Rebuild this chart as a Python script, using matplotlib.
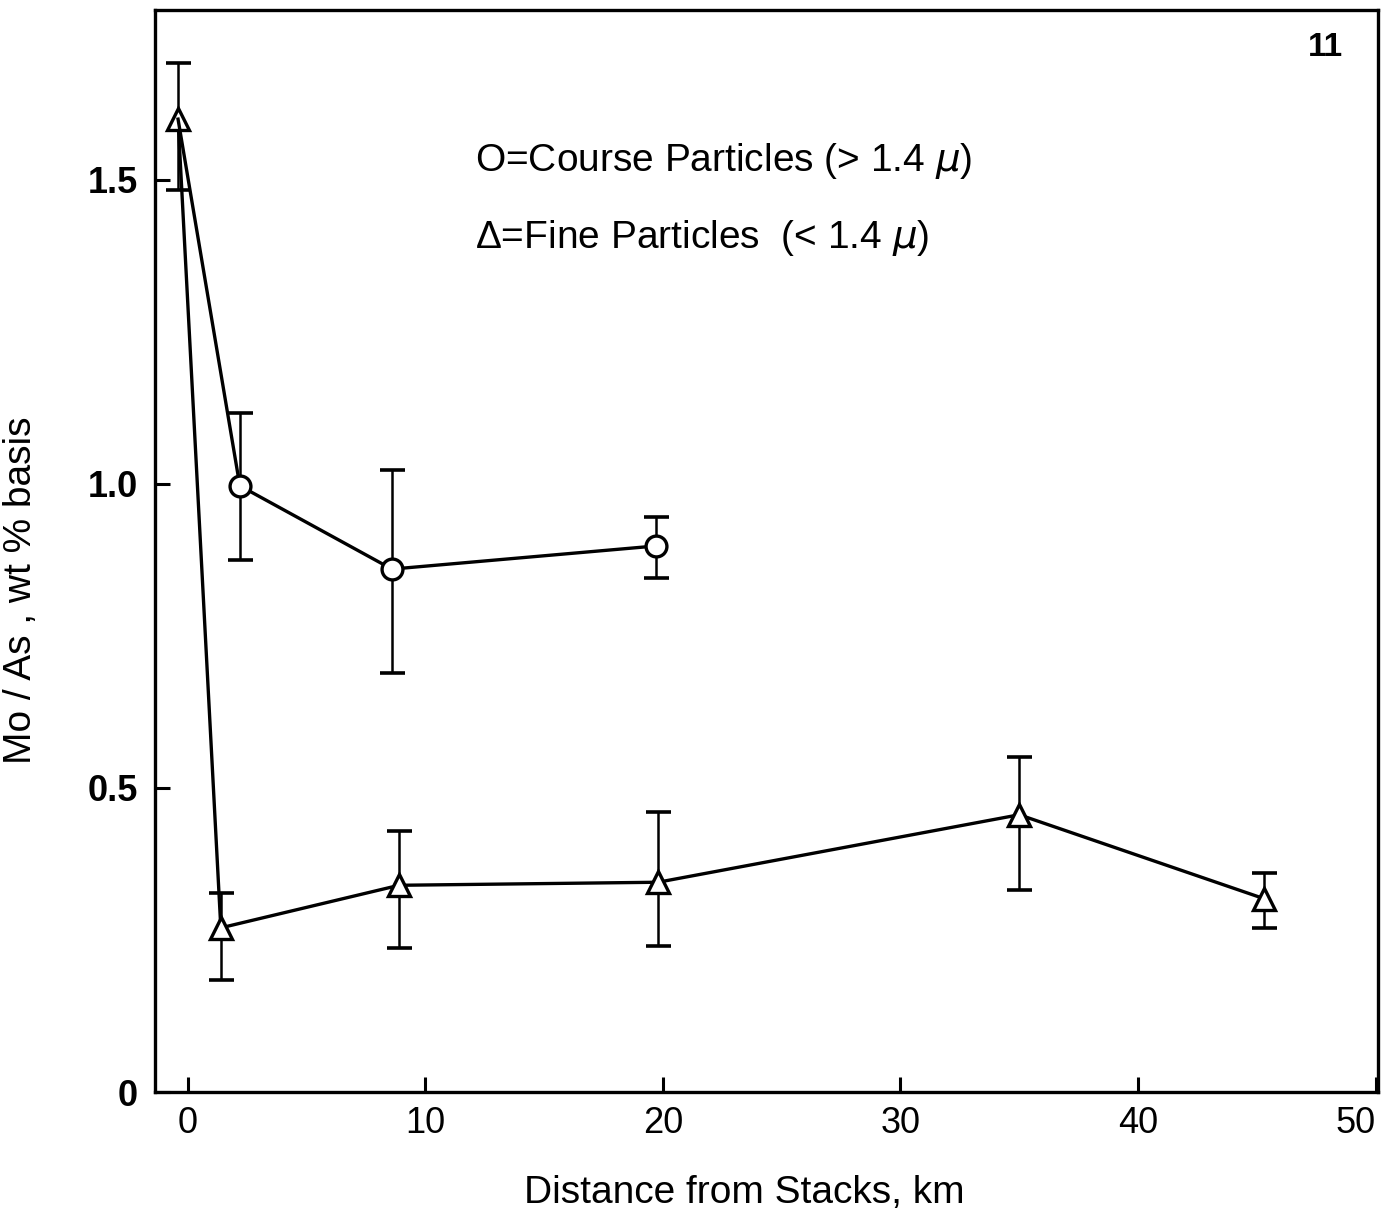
import matplotlib
matplotlib.use("Agg")
import matplotlib.pyplot as plt

# Fine particles (triangles)
fine_x = [-0.4, 1.4, 8.9, 19.8, 35.0, 45.3]
fine_y = [1.60, 0.27, 0.34, 0.345, 0.456, 0.318]
fine_lo = [1.484, 0.184, 0.237, 0.24, 0.332, 0.27]
fine_hi = [1.692, 0.327, 0.43, 0.46, 0.551, 0.36]

# Coarse particles (circles); first point shared with the fine series
coarse_x = [-0.4, 2.2, 8.6, 19.7]
coarse_y = [1.60, 0.997, 0.86, 0.898]
coarse_lo = [None, 0.875, 0.689, 0.845]
coarse_hi = [None, 1.117, 1.023, 0.946]

xticks = [0, 10, 20, 30, 40, 50]
yticks = [0, 0.5, 1.0, 1.5]
ytick_labels = ["0", "0.5", "1.0", "1.5"]

plt.rcParams['font.family'] = ['Liberation Sans', 'DejaVu Sans']

fig = plt.figure(figsize=(13.92, 12.10), dpi=100)
ax = fig.add_axes([0.111, 0.0975, 0.879, 0.8945])

# lines
ax.plot(fine_x, fine_y, color='black', lw=2.4, marker='^', markersize=16,
        markerfacecolor='white', markeredgecolor='black', markeredgewidth=2.4, zorder=3)
ax.plot(coarse_x, coarse_y, color='black', lw=2.4, marker='o', markersize=15,
        markerfacecolor='white', markeredgecolor='black', markeredgewidth=2.4,
        markevery=[1, 2, 3], zorder=3)

# error bars
fy = fine_y
ax.errorbar(fine_x, fy,
            yerr=[[fy[i] - fine_lo[i] for i in range(len(fy))],
                  [fine_hi[i] - fy[i] for i in range(len(fy))]],
            fmt='none', ecolor='black', elinewidth=1.8, capsize=9, capthick=2.6, zorder=2)
cx = coarse_x[1:]
cy = coarse_y[1:]
clo = coarse_lo[1:]
chi = coarse_hi[1:]
ax.errorbar(cx, cy,
            yerr=[[cy[i] - clo[i] for i in range(len(cy))],
                  [chi[i] - cy[i] for i in range(len(cy))]],
            fmt='none', ecolor='black', elinewidth=1.8, capsize=9, capthick=2.6, zorder=2)

ax.set_xlim(-1.39, 50.1)
ax.set_ylim(0, 1.78)
ax.set_xticks(xticks)
ax.set_xticklabels([str(t) for t in xticks])
ax.get_xticklabels()[-1].set_horizontalalignment('right')
ax.set_yticks(yticks)
ax.set_yticklabels(ytick_labels, fontweight='bold')
ax.tick_params(direction='in', length=11, width=2.2, labelsize=26)
ax.tick_params(axis='x', pad=10)
ax.tick_params(axis='y', pad=12)
for s in ax.spines.values():
    s.set_linewidth(2.4)

ax.set_xlabel("Distance from Stacks, km", fontsize=28)
ax.xaxis.set_label_coords(0.482, -0.0767)
ax.set_ylabel("Mo / As , wt % basis", fontsize=28)
ax.yaxis.set_label_coords(-0.094, 0.464)

ax.text(0.262, 0.86, "O=Course Particles (> 1.4 $\\mu$)", transform=ax.transAxes,
        fontsize=28, ha='left', va='center')
ax.text(0.262, 0.789, "\u0394=Fine Particles  (< 1.4 $\\mu$)", transform=ax.transAxes,
        fontsize=28, ha='left', va='center')
ax.text(0.943, 0.965, "11", transform=ax.transAxes, fontsize=24, fontweight='bold',
        ha='left', va='center')

fig.savefig("out.png", dpi=100)
